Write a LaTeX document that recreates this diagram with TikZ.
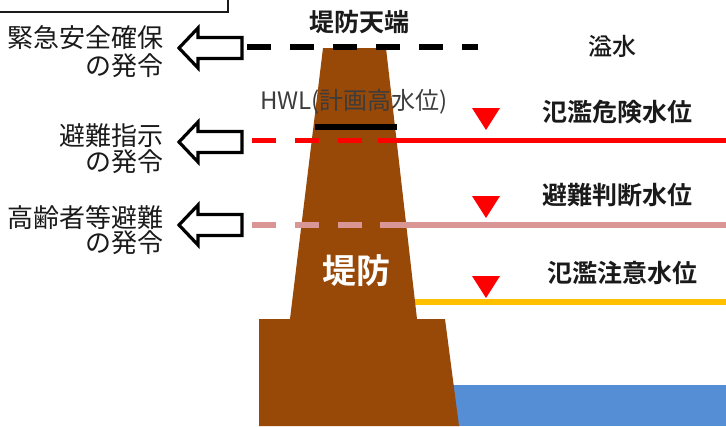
\documentclass[tikz,border=0pt]{standalone}
\usepackage{fontspec}
\newfontfamily\jp{Noto Sans CJK JP}
\newfontfamily\jpb{Noto Sans CJK JP Bold}
\newfontfamily\jpm{Noto Sans CJK JP Medium}
\definecolor{levee}{HTML}{984807}
\definecolor{water}{HTML}{558ED5}
\definecolor{rosy}{HTML}{D99694}
\definecolor{amber}{HTML}{FFC000}
\definecolor{ink}{HTML}{1A1A1A}
\begin{document}
\begin{tikzpicture}[x=1pt,y=-1pt,
  lbl/.style={inner sep=0pt,anchor=east,text=ink,font=\jp\fontsize{26}{28}\selectfont},
  rlbl/.style={inner sep=0pt,text=ink,font=\jpb\fontsize{25}{27}\selectfont},
  lvl/.style={line width=5.5pt},
  dsh/.style={dash pattern=on 24pt off 19pt},
  tri/.style={fill=red,draw=none},
  hollow/.style={draw=black,fill=white,line width=3.2pt,line join=miter}]
\useasboundingbox (0,0) rectangle (726,426);
% top-left frame fragment
\draw[line width=1.3pt,draw=ink] (0,12) -- (228,12) -- (228,0);
% water
\fill[water] (440,385) rectangle (726,426);
% amber level line
\coordinate (amL) at (410,302);
\coordinate (amR) at (726,302);
\draw[lvl,amber] (amL) -- (amR);
% levee
\fill[levee] (323,48) -- (386,48) -- (417,319) -- (445,319) -- (459,426)
  -- (259,426) -- (259,319) -- (290,319) -- cycle;
\node[inner sep=0pt,text=white,font=\jpb\fontsize{34}{36}\selectfont] (teibo) at (356,271) {堤防};
% crest dashed line
\coordinate (bkL) at (247,46.5);
\coordinate (bkR) at (478,46.5);
\draw[lvl,line width=6pt,black,dsh] (bkL) -- (bkR);
% HWL line
\coordinate (hwL) at (315,127);
\coordinate (hwR) at (397,127);
\draw[lvl,black] (hwL) -- (hwR);
% red level
\coordinate (rdL) at (252,140.5);
\coordinate (rdM) at (378,140.5);
\coordinate (rdR) at (726,140.5);
\draw[lvl,red,dsh] (rdL) -- (rdM);
\draw[lvl,red] (rdM) -- (rdR);
% rosy level
\coordinate (psL) at (252,225);
\coordinate (psM) at (380,225);
\coordinate (psR) at (726,225);
\draw[lvl,rosy,dsh] (psL) -- (psM);
\draw[lvl,rosy] (psM) -- (psR);
% triangles
\foreach \t in {108,196,276}{
  \fill[tri] (472,\t) -- (500,\t) -- (486,\t+22) -- cycle;
}
% hollow arrows
\foreach \c in {48,142,225}{
  \draw[hollow] (179,\c) -- (198,\c-20) -- (198,\c-10.5) -- (242,\c-10.5)
    -- (242,\c+10.5) -- (198,\c+10.5) -- (198,\c+20) -- cycle;
}
% left labels
\node[lbl] (a1) at (164,38) {緊急安全確保};
\node[lbl] (a2) at (164,66) {の発令};
\node[lbl] (b1) at (164,136) {避難指示};
\node[lbl] (b2) at (164,162) {の発令};
\node[lbl] (c1) at (164,218) {高齢者等避難};
\node[lbl] (c2) at (164,243) {の発令};
% right labels
\node[rlbl] (crest) at (359,22) {堤防天端};
\node[inner sep=0pt,text=ink!85,font=\jp\fontsize{24}{26}\selectfont] (hwl) at (354,102) {HWL(計画高水位)};
\node[rlbl,font=\jpm\fontsize{24}{26}\selectfont] (overflow) at (612,46) {溢水};
\node[rlbl] (danger) at (617,112) {氾濫危険水位};
\node[rlbl] (judge) at (617,195) {避難判断水位};
\node[rlbl] (caution) at (622,273) {氾濫注意水位};
\end{tikzpicture}
\end{document}
